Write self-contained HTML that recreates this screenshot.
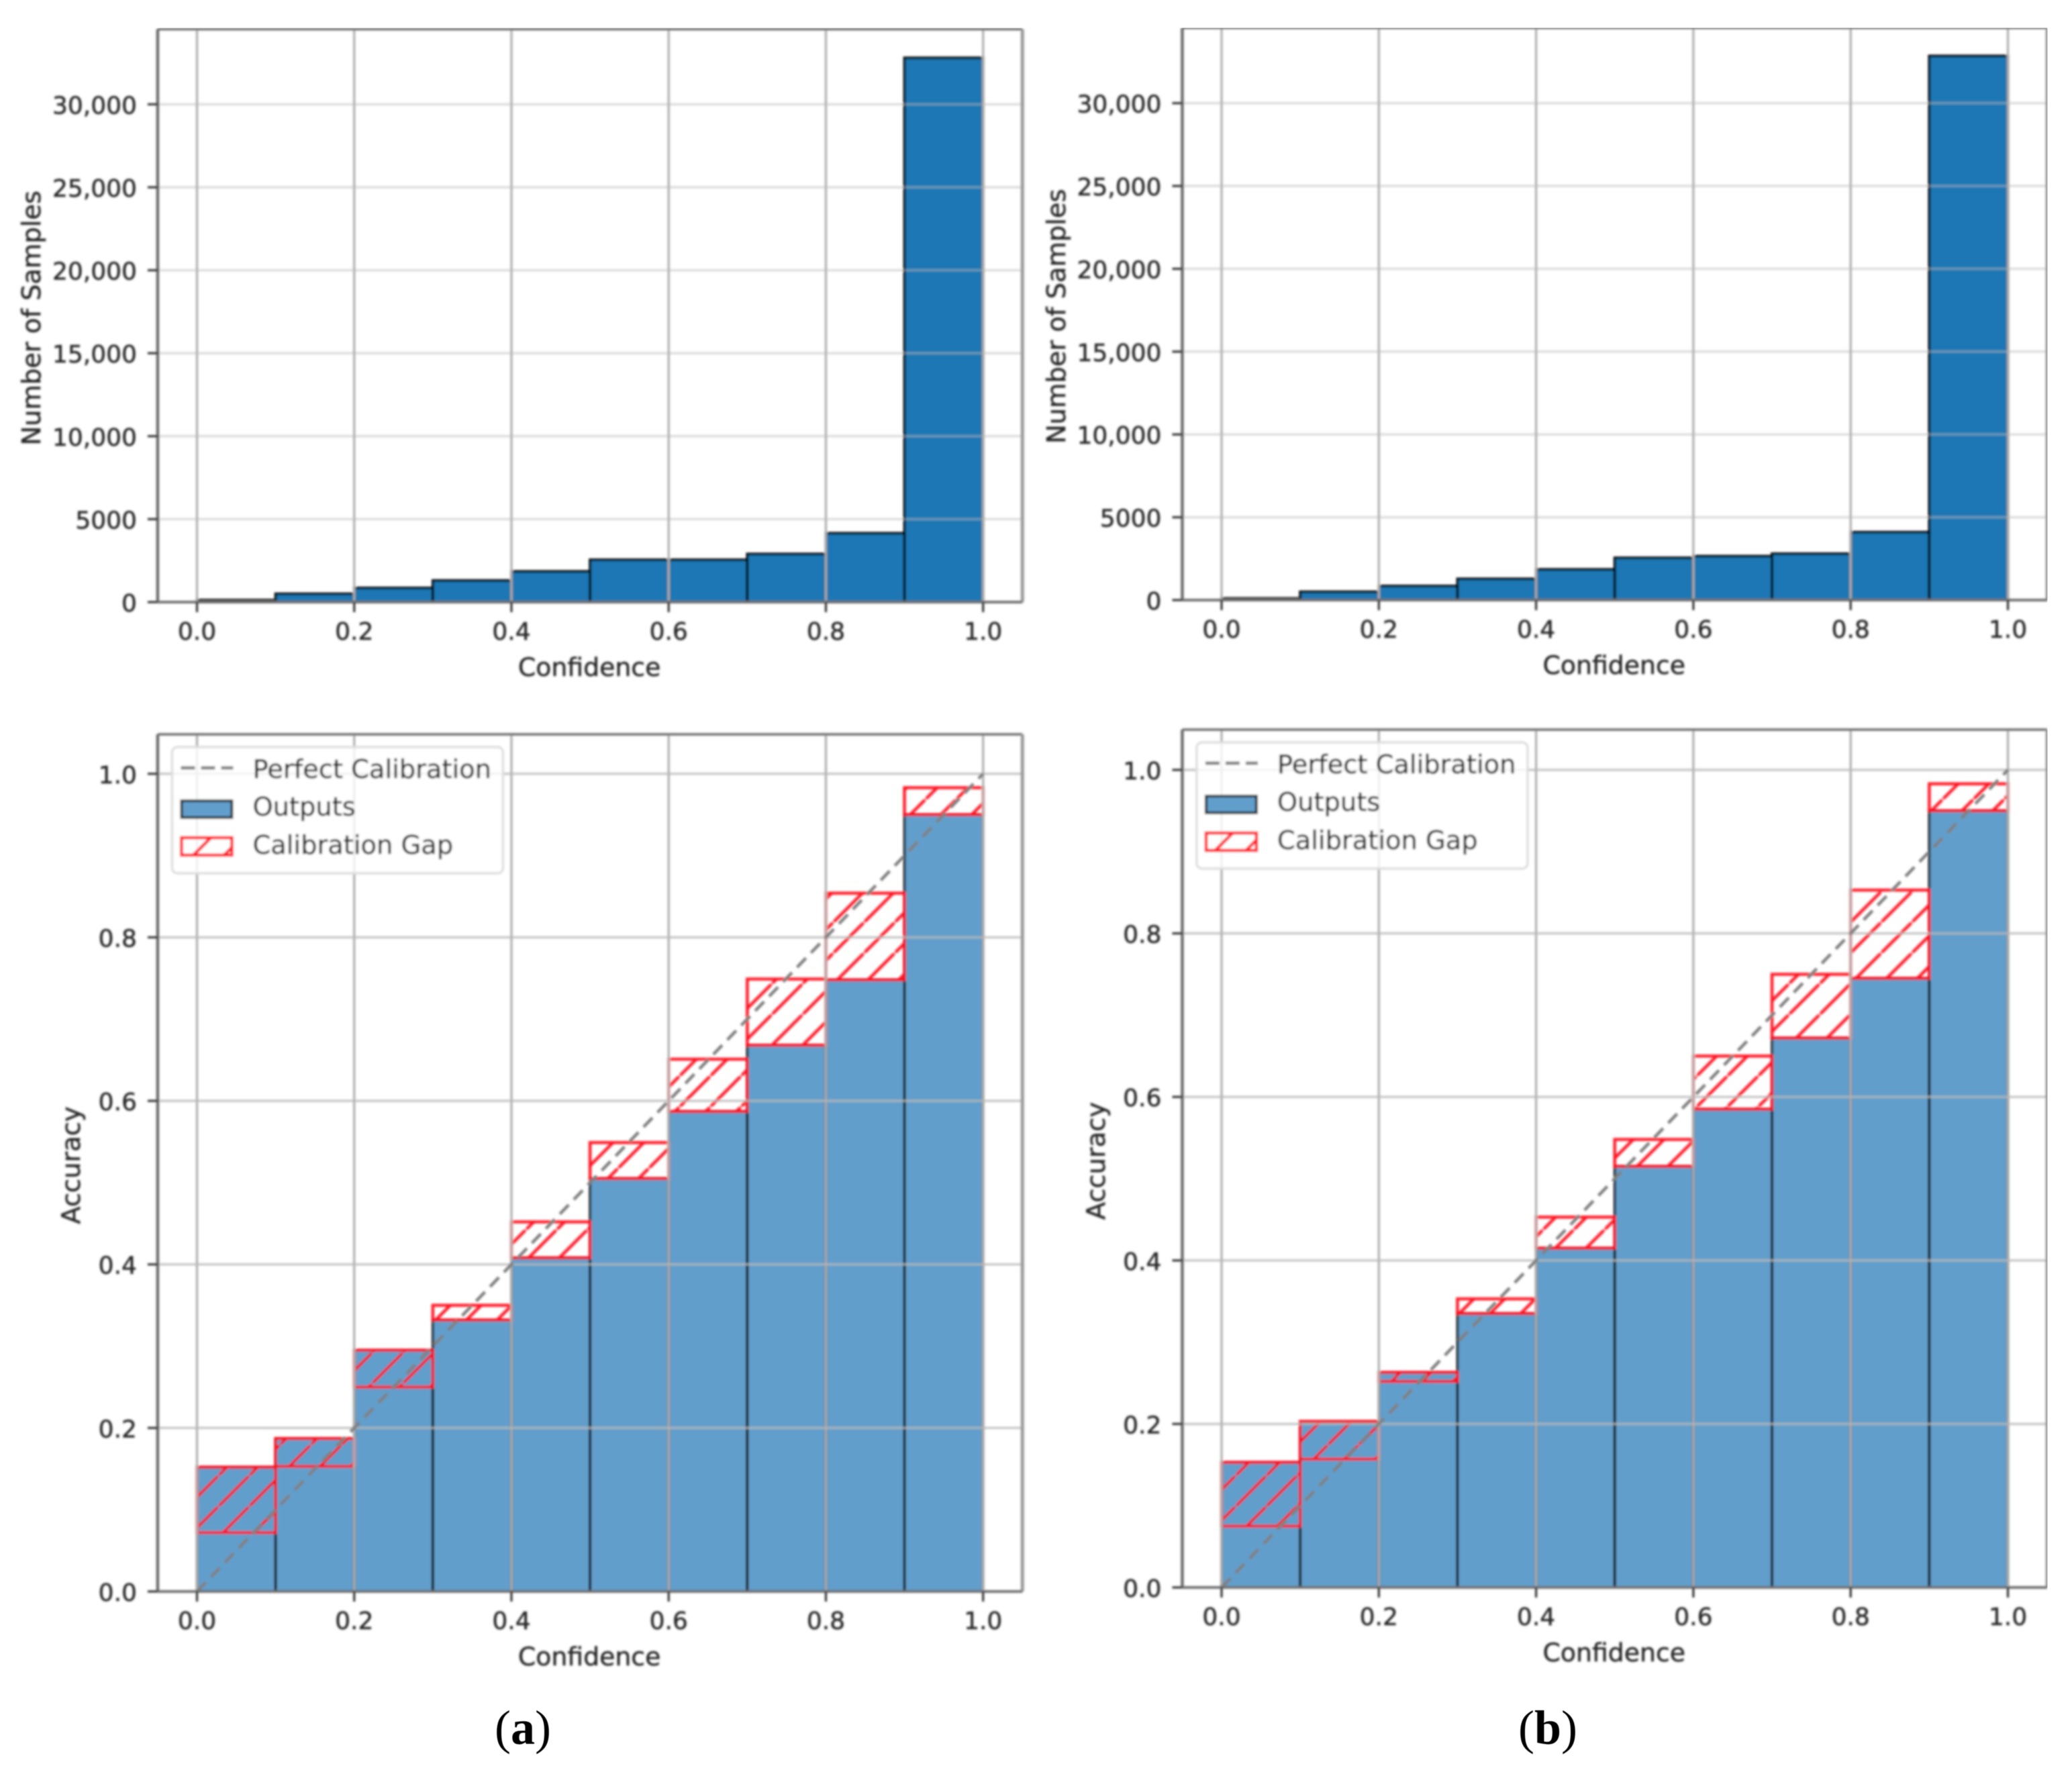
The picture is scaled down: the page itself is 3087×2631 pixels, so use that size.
<!DOCTYPE html>
<html>
<head>
<meta charset="utf-8">
<title>Confidence histograms and reliability diagrams</title>
<style>
html,body{margin:0;padding:0;background:#fff;}
svg{display:block;}
text{font-family:"DejaVu Sans","Liberation Sans",sans-serif;}
</style>
</head>
<body>
<svg id="figure" xmlns="http://www.w3.org/2000/svg" width="3087" height="2631" viewBox="0 0 3087 2631">
  <defs>
    <filter id="soft" x="0" y="0" width="100%" height="100%" filterUnits="objectBoundingBox"><feGaussianBlur stdDeviation="1.5"/></filter>
    <filter id="softCaption" x="-10%" y="-10%" width="120%" height="120%"><feGaussianBlur stdDeviation="0.6"/></filter>
  </defs>
  <rect width="3087" height="2631" fill="#fff"/>
  <g id="plots" filter="url(#soft)"></g>
  <g filter="url(#softCaption)">
    <text x="779" y="2598" text-anchor="middle" style="font-family:'Liberation Serif',serif;font-size:72px" fill="#000">(<tspan font-weight="bold">a</tspan>)</text>
    <text x="2306" y="2598" text-anchor="middle" style="font-family:'Liberation Serif',serif;font-size:72px" fill="#000">(<tspan font-weight="bold">b</tspan>)</text>
  </g>
</svg>
<script>
const binStarts = [0.0, 0.1, 0.2, 0.3, 0.4, 0.5, 0.6, 0.7, 0.8, 0.9];
const countsA = [120, 500, 850, 1300, 1850, 2550, 2550, 2900, 4150, 32800];
const countsB = [100, 500, 850, 1280, 1850, 2550, 2650, 2800, 4100, 32850];
const accuracyA = [0.152, 0.187, 0.295, 0.332, 0.408, 0.505, 0.587, 0.668, 0.748, 0.95];
const confidenceA = [0.072, 0.153, 0.25, 0.35, 0.452, 0.549, 0.651, 0.749, 0.854, 0.983];
const accuracyB = [0.153, 0.203, 0.263, 0.335, 0.415, 0.515, 0.585, 0.672, 0.745, 0.95];
const confidenceB = [0.075, 0.157, 0.252, 0.353, 0.453, 0.548, 0.65, 0.75, 0.853, 0.983];
const xTicks = [0, 0.2, 0.4, 0.6, 0.8, 1.0];
const xTickLabels = ['0.0', '0.2', '0.4', '0.6', '0.8', '1.0'];
const countTicks = [0, 5000, 10000, 15000, 20000, 25000, 30000];
const countTickLabels = ['0', '5000', '10,000', '15,000', '20,000', '25,000', '30,000'];
const accuracyTicks = [0, 0.2, 0.4, 0.6, 0.8, 1.0];
const accuracyTickLabels = ['0.0', '0.2', '0.4', '0.6', '0.8', '1.0'];
const binWidth = 0.1;

const NS = 'http://www.w3.org/2000/svg';
const plots = document.getElementById('plots');
const defs = document.querySelector('defs');
const INK = '#262626';

function make(tag, parent, attrs, content) {
  const el = document.createElementNS(NS, tag);
  for (const k in attrs) el.setAttribute(k, attrs[k]);
  if (content !== undefined) el.textContent = content;
  parent.appendChild(el);
  return el;
}

function makeAxes(box) {
  return {
    x: v => box.x0 + (box.x1 - box.x0) * v,
    y: v => box.y0 + (box.yRef - box.y0) * (v / box.refValue),
    left: box.x0 + (box.x1 - box.x0) * -0.05,
    right: box.x0 + (box.x1 - box.x0) * 1.05,
    top: box.top,
    bottom: box.y0
  };
}

function drawGrid(g, ax, yTicks, hOpacity) {
  xTicks.forEach(v => {
    const el = make('line', g, {x1: ax.x(v), x2: ax.x(v), y1: ax.top, y2: ax.bottom, stroke: '#b0b0b0', 'stroke-width': 3.4});
    
    
  });
  yTicks.forEach(v => {
    const el = make('line', g, {x1: ax.left, x2: ax.right, y1: ax.y(v), y2: ax.y(v), stroke: '#b8b8b8', 'stroke-width': 3.4, 'stroke-opacity': hOpacity});
    
    
  });
}

function drawFrame(g, ax, yTicks, yLabels, yTitle, yTitleX) {
  const spineData = [
    ['left-spine', ax.left, ax.top, ax.left, ax.bottom, '#6a6a6a', 4.5],
    ['top-spine', ax.left, ax.top, ax.right, ax.top, '#6a6a6a', 3.6],
    ['right-spine', ax.right, ax.top, ax.right, ax.bottom, '#9a9a9a', 5],
    ['bottom-spine', ax.left, ax.bottom, ax.right, ax.bottom, '#6f6f6f', 4]
  ];
  spineData.forEach(s => {
    const el = make('line', g, {x1: s[1], y1: s[2], x2: s[3], y2: s[4], stroke: s[5], 'stroke-width': s[6]});
    
    
  });
  xTicks.forEach((v, i) => {
    const tick = make('line', g, {x1: ax.x(v), x2: ax.x(v), y1: ax.bottom, y2: ax.bottom + 15, stroke: '#333', 'stroke-width': 3.2});
    
    
    const label = make('text', g, {x: ax.x(v), y: ax.bottom + 56, 'text-anchor': 'middle', 'font-size': 36, fill: INK, stroke: INK, 'stroke-width': 0.5}, xTickLabels[i]);
    
    
  });
  yTicks.forEach((v, i) => {
    const tick = make('line', g, {x1: ax.left - 15, x2: ax.left, y1: ax.y(v), y2: ax.y(v), stroke: '#333', 'stroke-width': 3.2});
    
    
    const label = make('text', g, {x: ax.left - 31, y: ax.y(v) + 14, 'text-anchor': 'end', 'font-size': 36, fill: INK, stroke: INK, 'stroke-width': 0.5}, yLabels[i]);
    
    
  });
  const xt = make('text', g, {x: (ax.left + ax.right) / 2 - 1, y: ax.bottom + 110, 'text-anchor': 'middle', 'font-size': 37.8, fill: INK, stroke: INK, 'stroke-width': 0.5}, 'Confidence');
  
  
  const cy = (ax.top + ax.bottom) / 2 + 3.5;
  const yt = make('text', g, {x: yTitleX, y: cy, 'text-anchor': 'middle', 'font-size': 38.4, fill: INK, stroke: INK, 'stroke-width': 0.5, transform: 'rotate(-90 ' + yTitleX + ' ' + cy + ')'}, yTitle);
  
  
}

function drawHistogram(box, counts, yTitleX) {
  const ax = makeAxes(box);
  const g = make('g', plots, {});
  
  
  binStarts.forEach((b, i) => {
    const top = ax.y(counts[i]);
    const r = make('rect', g, {x: ax.x(b), y: top, width: ax.x(b + binWidth) - ax.x(b), height: ax.y(0) - top, fill: '#1f77b4', stroke: '#000', 'stroke-width': 4, 'stroke-opacity': 0.9});
    
    
  });
  drawGrid(g, ax, countTicks, 0.5);
  drawFrame(g, ax, countTicks, countTickLabels, 'Number of Samples', yTitleX);
}

function drawReliability(box, accuracy, confidence, yTitleX, patternId, phase) {
  const ax = makeAxes(box);
  const period = 45.8;
  const pattern = make('pattern', defs, {id: patternId, width: period, height: period, patternUnits: 'userSpaceOnUse', patternTransform: 'translate(' + phase + ' 0)'});
  make('line', pattern, {x1: -4, y1: period + 4, x2: period + 4, y2: -4, stroke: '#ff1020', 'stroke-width': 4.8, 'stroke-opacity': 0.92});
  const g = make('g', plots, {});
  
  
  binStarts.forEach((b, i) => {
    const top = ax.y(accuracy[i]);
    const r = make('rect', g, {x: ax.x(b), y: top, width: ax.x(b + binWidth) - ax.x(b), height: ax.y(0) - top, fill: '#629ecb', stroke: '#000', 'stroke-width': 4, 'stroke-opacity': 0.8});
    
    
  });
  binStarts.forEach((b, i) => {
    const top = ax.y(Math.max(accuracy[i], confidence[i]));
    const bottom = ax.y(Math.min(accuracy[i], confidence[i]));
    const r = make('rect', g, {x: ax.x(b), y: top, width: ax.x(b + binWidth) - ax.x(b), height: bottom - top, fill: 'url(#' + patternId + ')', stroke: '#ff1020', 'stroke-width': 4.6, 'stroke-opacity': 0.92});
    
    
  });
  drawGrid(g, ax, accuracyTicks, 0.8);
  const diag = make('line', g, {x1: ax.x(0), y1: ax.y(0), x2: ax.x(1), y2: ax.y(1), stroke: '#808080', 'stroke-width': 4.6, 'stroke-dasharray': '19 11'});
  
  
  drawFrame(g, ax, accuracyTicks, accuracyTickLabels, 'Accuracy', yTitleX);

  const lg = make('g', g, {});
  
  
  const lx = ax.left + 21.5, ly = ax.top + 19;
  const frame = make('rect', lg, {x: lx, y: ly, width: 493, height: 188, rx: 8, fill: '#fff', 'fill-opacity': 0.8, stroke: '#ddd', 'stroke-width': 3.4});
  
  
  const dash = make('line', lg, {x1: lx + 13, x2: lx + 91, y1: ly + 31, y2: ly + 31, stroke: '#808080', 'stroke-width': 5, 'stroke-dasharray': '21 9'});
  
  
  const blue = make('rect', lg, {x: lx + 14, y: ly + 80, width: 75, height: 25, fill: '#629ecb', stroke: '#000', 'stroke-width': 4, 'stroke-opacity': 0.8});
  
  
  const red = make('rect', lg, {x: lx + 14, y: ly + 135, width: 75, height: 26, fill: 'url(#' + patternId + ')', stroke: '#ff1020', 'stroke-width': 4.6, 'stroke-opacity': 0.95});
  
  
  const t1 = make('text', lg, {x: lx + 120, y: ly + 46, 'font-size': 38.4, fill: INK, stroke: INK, 'stroke-width': 0.5}, 'Perfect Calibration');
  
  
  const t2 = make('text', lg, {x: lx + 120, y: ly + 102, 'font-size': 38.4, fill: INK, stroke: INK, 'stroke-width': 0.5}, 'Outputs');
  
  
  const t3 = make('text', lg, {x: lx + 120, y: ly + 159, 'font-size': 38.4, fill: INK, stroke: INK, 'stroke-width': 0.5}, 'Calibration Gap');
  
  
}

drawHistogram({x0: 293.5, x1: 1464.7, top: 43.5, y0: 897, yRef: 155.4, refValue: 30000}, countsA, 60);
drawHistogram({x0: 1820, x1: 2991.5, top: 41.5, y0: 894, yRef: 153.7, refValue: 30000}, countsB, 1587);
drawReliability({x0: 293.5, x1: 1464.7, top: 1094, y0: 2371, yRef: 1152.8, refValue: 1}, accuracyA, confidenceA, 119, 'hatchA', 5);
drawReliability({x0: 1820, x1: 2991.5, top: 1087, y0: 2365, yRef: 1147, refValue: 1}, accuracyB, confidenceB, 1646, 'hatchB', 9);
</script>
</body>
</html>
